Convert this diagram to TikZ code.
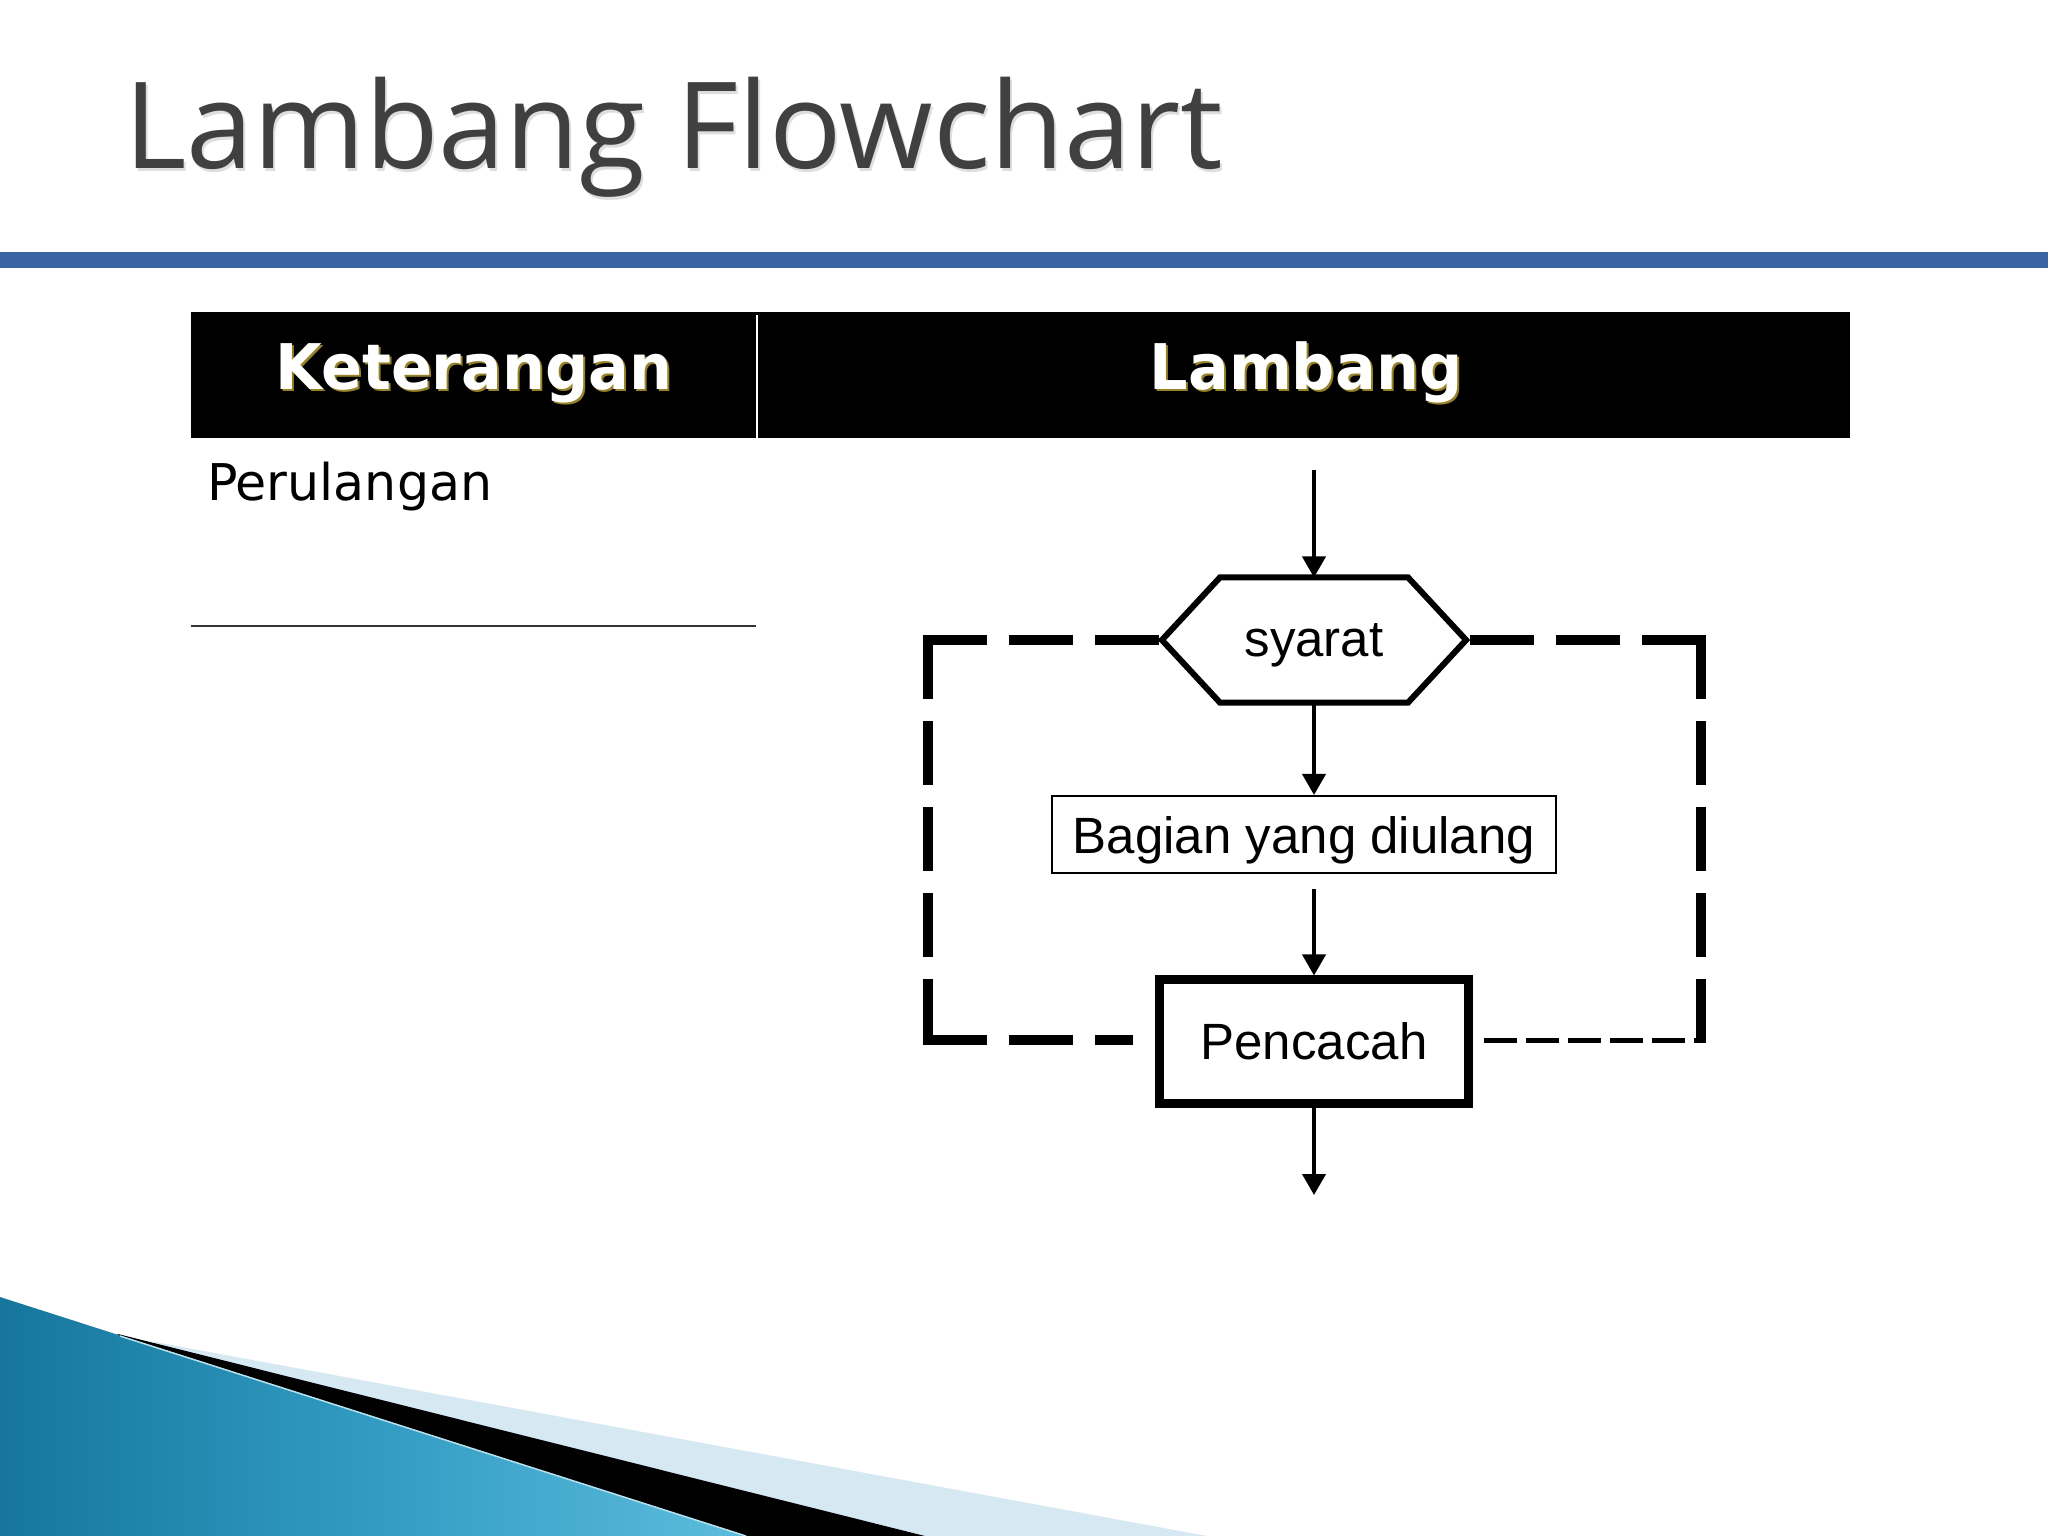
\documentclass[tikz,border=0pt]{standalone}
\usepackage{fontspec}
\usetikzlibrary{arrows.meta,calc}
\newfontfamily\titlefont{Open Sans}
\newfontfamily\hdrfont[FakeStretch=0.96]{DejaVu Sans}
\newfontfamily\dvfont{DejaVu Sans}
\newfontfamily\arialfont{Liberation Sans}
\definecolor{barblue}{RGB}{58,100,163}
\definecolor{titlegray}{RGB}{64,64,64}
\definecolor{tealdark}{RGB}{22,118,155}
\definecolor{teallight}{RGB}{92,188,220}
\definecolor{tealmid}{RGB}{50,155,195}
\definecolor{paleband}{RGB}{214,232,242}
\definecolor{hdrshadow}{RGB}{150,130,40}
\begin{document}
\begin{tikzpicture}[x=0.01cm,y=-0.01cm,
  txt/.style={inner sep=0pt, outer sep=0pt},
  titletext/.style={txt, anchor=base west, font=\titlefont\fontsize{34.2pt}{40pt}\selectfont},
  hdrtext/.style={txt, anchor=base, font=\hdrfont\bfseries\fontsize{17.9pt}{21pt}\selectfont},
  flowtext/.style={font=\arialfont\fontsize{14.5pt}{17pt}\selectfont},
  flowarrow/.style={line width=0.04cm, -{Triangle[width=0.23cm,length=0.21cm]}},
  loopthick/.style={line width=0.1cm, dash pattern=on 0.54cm off 0.32cm, line cap=rect},
  loopthin/.style={line width=0.05cm, dash pattern=on 0.33cm off 0.09cm},
]
\fill[white] (0,0) rectangle (2048,1536);
\useasboundingbox (0,0) rectangle (2048,1536);

% title
\node[titletext, text=black!13] (titleshadow) at (126,171) {Lambang Flowchart};
\node[titletext, text=titlegray] (title) at (124,168) {Lambang Flowchart};
\fill[barblue] (0,252) rectangle (2048,268);

% table header
\fill[black] (191,312) rectangle (1850,438);
\draw[white, line width=0.02cm] (757,315) -- (757,438);
\node[hdrtext, text=hdrshadow] (hkshadow) at (476,391) {Keterangan};
\node[hdrtext, text=white] (hk) at (474,389) {Keterangan};
\node[hdrtext, text=hdrshadow] (hlshadow) at (1308,391) {Lambang};
\node[hdrtext, text=white] (hl) at (1306,389) {Lambang};

% left column
\node[txt, anchor=base west, font=\dvfont\fontsize{14.4pt}{17pt}\selectfont] (perul) at (207,500) {Perulangan};
\draw[line width=0.02cm, black!80] (191,625.5) -- (756,625.5);

% flowchart geometry
\path node[txt, minimum width=3.04cm, minimum height=1.25cm] (syarat) at (1314,640) {};
\node[draw, line width=0.02cm, minimum width=5.04cm, minimum height=0.77cm, text height=0.57cm, text depth=0.2cm, inner sep=0pt, flowtext, fill=white] (bagian) at (1304,834.5) {Bagian yang diulang};
\coordinate (start) at (1314,470);
\coordinate (end) at (1314,1195);
\coordinate (tl) at (928,640);
\coordinate (bl) at (928,1040);
\coordinate (blend) at (1128,1040);
\coordinate (tr) at (1701,640);
\coordinate (br) at (1701,1040);
\coordinate (brstart) at (1484,1040);

% loop lines
\draw[loopthick] (tl) -- (syarat.west);
\draw[loopthick] (tl) -- (bl);
\draw[loopthick] (bl) -- (blend);
\draw[loopthick] (tr) -- (syarat.east);
\draw[loopthick] (tr) -- (br);
\draw[loopthin] (brstart) -- (br);

% hexagon
\draw[line width=0.06cm, fill=white, line join=miter]
  (syarat.west) -- ($(syarat.north west)+(58,0)$) -- ($(syarat.north east)+(-58,0)$)
  -- (syarat.east) -- ($(syarat.south east)+(-58,0)$) -- ($(syarat.south west)+(58,0)$) -- cycle;
\node[txt, flowtext, anchor=base] (syarattext) at (1314,656) {syarat};

\node[draw, line width=0.09cm, minimum width=3.08cm, minimum height=1.23cm, inner sep=0pt, flowtext, fill=white] (pencacah) at (1314,1041.5) {Pencacah};

% arrows
\draw[flowarrow] (start) -- (syarat.north);
\draw[flowarrow] (syarat.south) -- (syarat.south |- bagian.north);
\draw[flowarrow] ($(bagian.south -| syarat.center)+(0,15)$) -- (pencacah.north);
\draw[flowarrow] (pencacah.south) -- (end);

% bottom decoration
\fill[paleband] (155,1342) -- (1207,1536) -- (0,1536) -- cycle;
\fill[black] (118,1334) -- (925,1536) -- (0,1536) -- cycle;
\shade[left color=tealdark, right color=teallight, middle color=tealmid] (0,1297) -- (746,1536) -- (0,1536) -- cycle;
\draw[white!55!teallight, line width=0.015cm] (120,1336) -- (746,1536);
\end{tikzpicture}
\end{document}
